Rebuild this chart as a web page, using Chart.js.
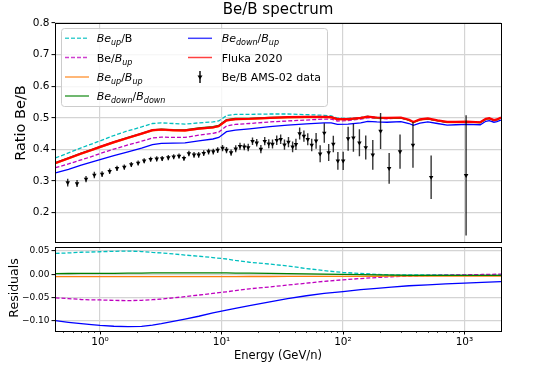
<!DOCTYPE html>
<html>
<head>
<meta charset="utf-8">
<script src="https://cdn.jsdelivr.net/npm/chart.js@4.4.1/dist/chart.umd.min.js"></script>
<style>
  body { margin: 0; background: #fff; }
  #wrap { position: relative; width: 557px; height: 368px; }
  #topChart { position: absolute; left: 0; top: 0; }
  #resChart { position: absolute; left: 0; top: 240px; }
</style>
</head>
<body>
<div id="wrap">
  <canvas id="topChart" width="557" height="250"></canvas>
  <canvas id="resChart" width="557" height="128"></canvas>
</div>
<script>
// Energy grid (GeV/n) of the model curves in the upper panel.
var modelEnergy = [0.43, 0.55, 0.7, 0.85, 1.0, 1.3, 1.7, 2.2, 2.7, 3.2, 4.0, 5.0, 6.5, 8.5, 9.5, 11, 13, 17, 25, 35, 50, 70, 80, 90, 110, 140, 160, 190, 230, 300, 350, 380, 430, 500, 600, 720, 850, 1050, 1350, 1500, 1600, 1750, 1850, 2000];

var flukaRatio = [0.357, 0.372, 0.387, 0.398, 0.408, 0.423, 0.437, 0.450, 0.461, 0.463, 0.461, 0.460, 0.466, 0.470, 0.474, 0.492, 0.496, 0.497, 0.500, 0.502, 0.503, 0.503, 0.502, 0.496, 0.496, 0.500, 0.504, 0.501, 0.500, 0.501, 0.494, 0.487, 0.495, 0.498, 0.492, 0.487, 0.487, 0.488, 0.486, 0.497, 0.499, 0.493, 0.495, 0.501];
var beUpB = [0.373, 0.389, 0.405, 0.417, 0.427, 0.444, 0.459, 0.471, 0.482, 0.484, 0.482, 0.480, 0.484, 0.487, 0.490, 0.507, 0.511, 0.511, 0.512, 0.512, 0.510, 0.508, 0.506, 0.499, 0.498, 0.501, 0.505, 0.501, 0.500, 0.500, 0.493, 0.486, 0.494, 0.497, 0.491, 0.486, 0.486, 0.487, 0.485, 0.496, 0.498, 0.492, 0.494, 0.500];
var beBUp = [0.342, 0.354, 0.367, 0.377, 0.387, 0.401, 0.414, 0.426, 0.436, 0.439, 0.438, 0.438, 0.445, 0.451, 0.455, 0.474, 0.479, 0.482, 0.487, 0.490, 0.493, 0.496, 0.496, 0.490, 0.491, 0.496, 0.500, 0.498, 0.497, 0.499, 0.492, 0.486, 0.494, 0.497, 0.491, 0.486, 0.486, 0.487, 0.486, 0.497, 0.499, 0.493, 0.495, 0.501];
var beUpBUp = [0.355, 0.370, 0.385, 0.396, 0.406, 0.421, 0.435, 0.448, 0.459, 0.461, 0.459, 0.458, 0.464, 0.468, 0.472, 0.490, 0.494, 0.495, 0.498, 0.500, 0.501, 0.501, 0.500, 0.494, 0.494, 0.498, 0.502, 0.499, 0.498, 0.499, 0.492, 0.485, 0.493, 0.496, 0.490, 0.485, 0.485, 0.486, 0.484, 0.495, 0.497, 0.491, 0.493, 0.499];
var beDownBDown = [0.358, 0.373, 0.388, 0.399, 0.409, 0.424, 0.438, 0.451, 0.462, 0.464, 0.462, 0.462, 0.468, 0.472, 0.476, 0.494, 0.498, 0.498, 0.501, 0.502, 0.503, 0.503, 0.502, 0.496, 0.495, 0.499, 0.503, 0.500, 0.499, 0.500, 0.493, 0.486, 0.494, 0.497, 0.491, 0.486, 0.486, 0.487, 0.485, 0.496, 0.498, 0.492, 0.494, 0.500];
var beDownBUp = [0.326, 0.337, 0.350, 0.360, 0.368, 0.380, 0.392, 0.404, 0.415, 0.419, 0.420, 0.421, 0.427, 0.433, 0.438, 0.456, 0.461, 0.465, 0.472, 0.477, 0.481, 0.484, 0.484, 0.479, 0.480, 0.484, 0.489, 0.487, 0.486, 0.488, 0.482, 0.476, 0.483, 0.487, 0.482, 0.477, 0.478, 0.479, 0.478, 0.489, 0.491, 0.486, 0.488, 0.493];

// AMS-02 Be/B points with half error bars.
var amsEnergy = [0.542, 0.647, 0.767, 0.898, 1.04, 1.20, 1.38, 1.585, 1.81, 2.06, 2.31, 2.61, 2.93, 3.25, 3.65, 4.04, 4.47, 4.91, 5.39, 5.94, 6.49, 7.14, 7.83, 8.56, 9.3, 10.2, 11.0, 12.0, 13.1, 14.2, 15.4, 16.6, 18.0, 19.5, 21.1, 22.7, 24.5, 26.3, 28.5, 30.7, 33.0, 35.6, 38.5, 41.0, 44.0, 47.7, 51.3, 55.3, 60.1, 64.9, 70.2, 76.3, 83.3, 90.8, 100.4, 110.3, 121.9, 136.6, 154, 176, 204, 240, 295, 377, 532, 1032];
var amsRatio = [0.295, 0.292, 0.306, 0.319, 0.322, 0.331, 0.340, 0.344, 0.352, 0.357, 0.364, 0.369, 0.370, 0.371, 0.374, 0.377, 0.379, 0.372, 0.387, 0.383, 0.383, 0.388, 0.393, 0.393, 0.398, 0.404, 0.398, 0.390, 0.402, 0.410, 0.408, 0.406, 0.426, 0.421, 0.401, 0.426, 0.418, 0.417, 0.429, 0.432, 0.415, 0.423, 0.408, 0.416, 0.450, 0.442, 0.432, 0.414, 0.427, 0.386, 0.452, 0.390, 0.417, 0.364, 0.364, 0.434, 0.437, 0.421, 0.406, 0.383, 0.458, 0.340, 0.393, 0.414, 0.312, 0.318];
var amsErr = [0.012, 0.011, 0.010, 0.010, 0.009, 0.009, 0.008, 0.008, 0.008, 0.008, 0.008, 0.008, 0.008, 0.008, 0.008, 0.008, 0.008, 0.008, 0.009, 0.009, 0.009, 0.009, 0.009, 0.009, 0.009, 0.010, 0.010, 0.010, 0.011, 0.011, 0.011, 0.012, 0.012, 0.012, 0.013, 0.013, 0.014, 0.014, 0.015, 0.015, 0.016, 0.016, 0.017, 0.018, 0.019, 0.018, 0.019, 0.020, 0.025, 0.027, 0.031, 0.027, 0.026, 0.028, 0.029, 0.038, 0.044, 0.043, 0.038, 0.047, 0.057, 0.049, 0.054, 0.072, 0.069, 0.19];

// Residuals panel.
var resEnergy = [0.43, 0.55, 0.7, 0.85, 1.0, 1.3, 1.7, 2.2, 2.7, 3.2, 4.0, 5.0, 6.5, 8.5, 11, 13, 17, 25, 35, 50, 70, 100, 140, 190, 250, 350, 500, 700, 1000, 1400, 2000];
var resBeUpB = [0.045, 0.046, 0.0475, 0.048, 0.0486, 0.0495, 0.050, 0.049, 0.047, 0.046, 0.044, 0.0415, 0.039, 0.036, 0.033, 0.030, 0.026, 0.022, 0.018, 0.0125, 0.008, 0.004, 0.002, 0.0, -0.001, -0.001, -0.001, -0.001, -0.001, -0.001, -0.001];
var resBeBUp = [-0.0506, -0.052, -0.054, -0.0548, -0.055, -0.056, -0.0564, -0.0558, -0.0545, -0.053, -0.0505, -0.048, -0.0445, -0.041, -0.0375, -0.035, -0.031, -0.027, -0.023, -0.019, -0.015, -0.0117, -0.009, -0.0068, -0.0052, -0.0035, -0.0025, -0.0018, -0.001, -0.0003, 0.0005];
var resBeUpBUp = [-0.0047, -0.0047, -0.0047, -0.0047, -0.0047, -0.0047, -0.0047, -0.0047, -0.0047, -0.0047, -0.0047, -0.0047, -0.0047, -0.0047, -0.0047, -0.0047, -0.0046, -0.0046, -0.0045, -0.0045, -0.0044, -0.0043, -0.0042, -0.0041, -0.004, -0.004, -0.004, -0.004, -0.004, -0.004, -0.004];
var resBeDownBDown = [0.0017, 0.0018, 0.0019, 0.002, 0.002, 0.0022, 0.0025, 0.0028, 0.003, 0.003, 0.003, 0.003, 0.003, 0.003, 0.003, 0.0028, 0.0025, 0.002, 0.0015, 0.001, 0.0005, 0.0, -0.0005, -0.001, -0.0015, -0.002, -0.002, -0.002, -0.002, -0.002, -0.002];
var resBeDownBUp = [-0.0996, -0.103, -0.106, -0.108, -0.1096, -0.1115, -0.1124, -0.1117, -0.109, -0.106, -0.101, -0.096, -0.090, -0.083, -0.077, -0.073, -0.067, -0.059, -0.052, -0.046, -0.041, -0.0372, -0.033, -0.030, -0.0275, -0.0245, -0.0225, -0.0205, -0.0187, -0.0172, -0.0158];

// Tick values and labels.
var topTicks = [0.2, 0.3, 0.4, 0.5, 0.6, 0.7, 0.8];
var resTicks = [-0.10, -0.05, 0.00, 0.05];
var xDecades = [1, 10, 100, 1000];
var xDecadeLabels = ["10\u2070", "10\u00b9", "10\u00b2", "10\u00b3"];

var FONT = "'DejaVu Sans', sans-serif";
var COLORS = {
  cyan: "#00bfbf", magenta: "#bf00bf", orange: "#ff7f0e",
  green: "#008000", blue: "#0000ff", red: "#ff0000"
};

// Log minor tick positions between the axis limits.
var minorTicks = [];
for (var p = -1; p <= 3; p++) {
  for (var m = 2; m <= 9; m++) {
    var v = m * Math.pow(10, p);
    if (v > 0.426 && v < 2000) minorTicks.push(v);
  }
}

function toPoints(xs, ys) {
  return xs.map(function (x, i) { return { x: x, y: ys[i] }; });
}

function lineSet(label, xs, ys, color, width, dashed, order) {
  return {
    label: label, data: toPoints(xs, ys), borderColor: color, backgroundColor: color,
    borderWidth: width, borderDash: dashed ? [4, 2] : [], pointRadius: 0, tension: 0, order: order
  };
}

// Puts a text made of normal / italic / subscript parts on the canvas.
function drawRich(ctx, x, baseY, parts) {
  parts.forEach(function (part) {
    ctx.font = (part.i ? "italic " : "") + (part.s ? "8px " : "11px ") + FONT;
    ctx.fillText(part.t, x, part.s ? baseY + 3 : baseY);
    x += ctx.measureText(part.t).width;
  });
}

var framePlugin = {
  id: "frame",
  afterDraw: function (chart) {
    var a = chart.chartArea, ctx = chart.ctx;
    ctx.save();
    ctx.strokeStyle = "#000";
    ctx.lineWidth = 1;
    ctx.strokeRect(Math.round(a.left) + 0.5, Math.round(a.top) + 0.5, Math.round(a.right - a.left), Math.round(a.bottom - a.top));
    ctx.restore();
  }
};

var errorBarPlugin = {
  id: "errorBars",
  afterDatasetsDraw: function (chart) {
    var a = chart.chartArea, ctx = chart.ctx;
    var xs = chart.scales.x, ys = chart.scales.y;
    ctx.save();
    ctx.beginPath();
    ctx.rect(a.left, a.top, a.right - a.left, a.bottom - a.top);
    ctx.clip();
    ctx.strokeStyle = "rgba(0,0,0,0.8)";
    ctx.lineWidth = 1.4;
    for (var i = 0; i < amsEnergy.length; i++) {
      var px = xs.getPixelForValue(amsEnergy[i]);
      ctx.beginPath();
      ctx.moveTo(px, ys.getPixelForValue(amsRatio[i] - amsErr[i]));
      ctx.lineTo(px, ys.getPixelForValue(amsRatio[i] + amsErr[i]));
      ctx.stroke();
    }
    ctx.restore();
  }
};

var legendPlugin = {
  id: "richLegend",
  afterDraw: function (chart) {
    var ctx = chart.ctx;
    ctx.save();
    // frame
    ctx.fillStyle = "rgba(255,255,255,0.8)";
    ctx.strokeStyle = "#cccccc";
    ctx.lineWidth = 1;
    ctx.beginPath();
    ctx.roundRect(61.5, 28.5, 266, 78, 3);
    ctx.fill();
    ctx.stroke();

    var rows = [38.3, 57.5, 77, 96];
    var items = [
      { col: 0, row: 0, color: COLORS.cyan, dash: true, parts: [{ t: "Be", i: 1 }, { t: "up", i: 1, s: 1 }, { t: "/B" }] },
      { col: 0, row: 1, color: COLORS.magenta, dash: true, parts: [{ t: "Be/" }, { t: "B", i: 1 }, { t: "up", i: 1, s: 1 }] },
      { col: 0, row: 2, color: COLORS.orange, parts: [{ t: "Be", i: 1 }, { t: "up", i: 1, s: 1 }, { t: "/" }, { t: "B", i: 1 }, { t: "up", i: 1, s: 1 }] },
      { col: 0, row: 3, color: COLORS.green, parts: [{ t: "Be", i: 1 }, { t: "down", i: 1, s: 1 }, { t: "/" }, { t: "B", i: 1 }, { t: "down", i: 1, s: 1 }] },
      { col: 1, row: 0, color: COLORS.blue, parts: [{ t: "Be", i: 1 }, { t: "down", i: 1, s: 1 }, { t: "/" }, { t: "B", i: 1 }, { t: "up", i: 1, s: 1 }] },
      { col: 1, row: 1, color: COLORS.red, parts: [{ t: "Fluka 2020" }] },
      { col: 1, row: 2, marker: true, parts: [{ t: "Be/B AMS-02 data" }] }
    ];
    var handleX = [65, 188], textX = [96.7, 221.7];

    items.forEach(function (it) {
      var y = rows[it.row], x0 = handleX[it.col];
      if (it.marker) {
        ctx.strokeStyle = "#000";
        ctx.lineWidth = 1.4;
        ctx.beginPath();
        ctx.moveTo(x0 + 12, y - 6);
        ctx.lineTo(x0 + 12, y + 6);
        ctx.stroke();
        ctx.fillStyle = "#000";
        ctx.beginPath();
        ctx.moveTo(x0 + 9.5, y - 1.5);
        ctx.lineTo(x0 + 14.5, y - 1.5);
        ctx.lineTo(x0 + 12, y + 2.5);
        ctx.closePath();
        ctx.fill();
      } else {
        ctx.globalAlpha = 0.75;
        ctx.strokeStyle = it.color;
        ctx.lineWidth = 1.5;
        ctx.setLineDash(it.dash ? [4, 2] : []);
        ctx.beginPath();
        ctx.moveTo(x0, y);
        ctx.lineTo(x0 + 24, y);
        ctx.stroke();
        ctx.setLineDash([]);
        ctx.globalAlpha = 1;
      }
      ctx.fillStyle = "#000";
      ctx.textBaseline = "alphabetic";
      ctx.textAlign = "left";
      drawRich(ctx, textX[it.col], y + 4, it.parts);
    });
    ctx.restore();
  }
};

var topLabelsPlugin = {
  id: "topLabels",
  afterDraw: function (chart) {
    var ctx = chart.ctx;
    ctx.save();
    ctx.fillStyle = "#000";
    ctx.textAlign = "center";
    ctx.textBaseline = "alphabetic";
    ctx.font = "15px " + FONT;
    ctx.fillText("Be/B spectrum", 278, 14);
    ctx.translate(21.7, 123);
    ctx.rotate(-Math.PI / 2);
    ctx.textBaseline = "middle";
    ctx.font = "14.5px " + FONT;
    ctx.fillText("Ratio Be/B", 0, 0);
    ctx.restore();
  }
};

var resLabelsPlugin = {
  id: "resLabels",
  afterDraw: function (chart) {
    var ctx = chart.ctx, a = chart.chartArea, xs = chart.scales.x;
    ctx.save();
    // x tick marks, major and minor
    ctx.strokeStyle = "#000";
    ctx.lineWidth = 1;
    xDecades.forEach(function (v) {
      var px = Math.round(xs.getPixelForValue(v)) + 0.5;
      ctx.beginPath(); ctx.moveTo(px, a.bottom); ctx.lineTo(px, a.bottom + 3.5); ctx.stroke();
    });
    ctx.lineWidth = 0.7;
    minorTicks.forEach(function (v) {
      var px = Math.round(xs.getPixelForValue(v)) + 0.5;
      ctx.beginPath(); ctx.moveTo(px, a.bottom); ctx.lineTo(px, a.bottom + 2); ctx.stroke();
    });
    ctx.fillStyle = "#000";
    ctx.textAlign = "center";
    ctx.textBaseline = "middle";
    ctx.font = "11.5px " + FONT;
    ctx.fillText("Energy (GeV/n)", 278, 116.5);
    ctx.translate(15, 48);
    ctx.rotate(-Math.PI / 2);
    ctx.font = "12.5px " + FONT;
    ctx.fillText("Residuals", 0, 0);
    ctx.restore();
  }
};

function isDecade(v) {
  return xDecades.indexOf(Math.round(v * 1000) / 1000) >= 0;
}

function xScale(showLabels) {
  return {
    type: "logarithmic",
    min: 0.426,
    max: 2000,
    afterBuildTicks: function (scale) {
      scale.ticks = xDecades.map(function (v) { return { value: v }; });
    },
    afterFit: function (scale) { scale.height = showLabels ? 37 : 3; },
    border: { display: false },
    grid: { color: "#d4d4d4", lineWidth: 1.2, drawTicks: false },
    ticks: {
      display: showLabels,
      autoSkip: false,
      maxRotation: 0,
      padding: 5,
      color: "#000",
      font: { family: FONT, size: 10.5 },
      callback: function (value) {
        var k = xDecades.indexOf(Math.round(value * 1000) / 1000);
        return k >= 0 ? xDecadeLabels[k] : "";
      }
    }
  };
}

// Upper panel: model ratios, Fluka and AMS-02 data.
var topChart = new Chart(document.getElementById("topChart"), {
  type: "line",
  data: {
    datasets: [
      {
        label: "Be/B AMS-02 data", data: toPoints(amsEnergy, amsRatio), showLine: false,
        pointStyle: "triangle", rotation: 180, pointRadius: 2.6, borderWidth: 0,
        backgroundColor: "#000", borderColor: "#000", order: 1
      },
      lineSet("Fluka 2020", modelEnergy, flukaRatio, COLORS.red, 2.2, false, 2),
      lineSet("Be_down/B_up", modelEnergy, beDownBUp, COLORS.blue, 1.3, false, 3),
      lineSet("Be_down/B_down", modelEnergy, beDownBDown, COLORS.green, 1.3, false, 4),
      lineSet("Be_up/B_up", modelEnergy, beUpBUp, COLORS.orange, 1.3, false, 5),
      lineSet("Be/B_up", modelEnergy, beBUp, COLORS.magenta, 1.3, true, 6),
      lineSet("Be_up/B", modelEnergy, beUpB, COLORS.cyan, 1.3, true, 7)
    ]
  },
  options: {
    responsive: false,
    animation: false,
    layout: { padding: { left: 0, right: 56, top: 23, bottom: 0 } },
    plugins: { legend: { display: false }, tooltip: { enabled: false }, title: { display: false } },
    scales: {
      x: xScale(false),
      y: {
        min: 0.108,
        max: 0.8,
        afterBuildTicks: function (scale) {
          scale.ticks = topTicks.map(function (v) { return { value: v }; });
        },
        afterFit: function (scale) { scale.width = 55; },
        border: { display: false },
        grid: { color: "#d4d4d4", lineWidth: 1.2, tickColor: "#000", tickLength: 3.5, tickWidth: 1 },
        ticks: {
          padding: 2,
          color: "#000",
          font: { family: FONT, size: 10.5 },
          callback: function (value) { return value.toFixed(1); }
        }
      }
    }
  },
  plugins: [errorBarPlugin, framePlugin, topLabelsPlugin, legendPlugin]
});

// Lower panel: residuals with respect to Fluka 2020.
var resChart = new Chart(document.getElementById("resChart"), {
  type: "line",
  data: {
    datasets: [
      lineSet("Be_down/B_up", resEnergy, resBeDownBUp, COLORS.blue, 1.3, false, 3),
      lineSet("Be_down/B_down", resEnergy, resBeDownBDown, COLORS.green, 1.3, false, 4),
      lineSet("Be_up/B_up", resEnergy, resBeUpBUp, COLORS.orange, 1.3, false, 5),
      lineSet("Be/B_up", resEnergy, resBeBUp, COLORS.magenta, 1.3, true, 6),
      lineSet("Be_up/B", resEnergy, resBeUpB, COLORS.cyan, 1.3, true, 7)
    ]
  },
  options: {
    responsive: false,
    animation: false,
    layout: { padding: { left: 0, right: 56, top: 7, bottom: 0 } },
    plugins: { legend: { display: false }, tooltip: { enabled: false }, title: { display: false } },
    scales: {
      x: xScale(true),
      y: {
        min: -0.1217,
        max: 0.0579,
        afterBuildTicks: function (scale) {
          scale.ticks = resTicks.map(function (v) { return { value: v }; });
        },
        afterFit: function (scale) { scale.width = 55; },
        border: { display: false },
        grid: { color: "#d4d4d4", lineWidth: 1.2, tickColor: "#000", tickLength: 3.5, tickWidth: 1 },
        ticks: {
          padding: 2,
          color: "#000",
          font: { family: FONT, size: 9 },
          callback: function (value) {
            var s = Math.abs(value).toFixed(2);
            return value < -1e-9 ? "\u2212" + s : s;
          }
        }
      }
    }
  },
  plugins: [framePlugin, resLabelsPlugin]
});
</script>
</body>
</html>
